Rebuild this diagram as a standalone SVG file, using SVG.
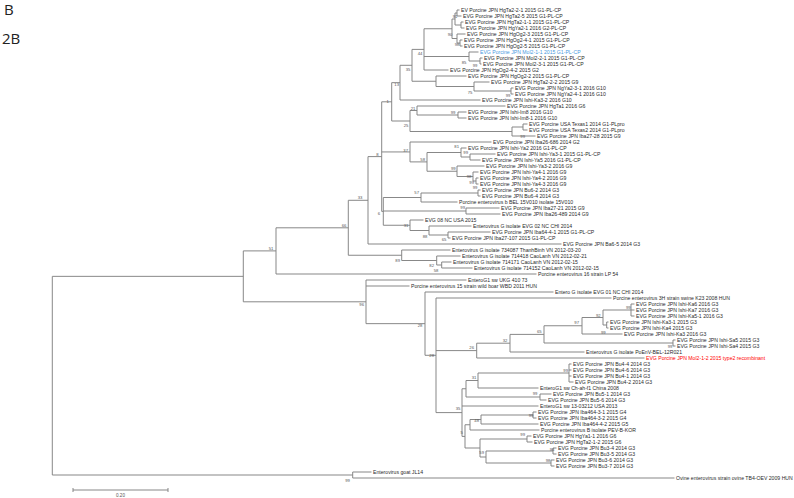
<svg xmlns="http://www.w3.org/2000/svg" width="794" height="498" viewBox="0 0 794 498">
<style>
.t{font-family:"Liberation Sans",Arial,sans-serif;font-size:5.15px;fill:#2a2a2a}
.bl{fill:#4a9ae0}
.rd{fill:#ff0000}
.b{font-family:"Liberation Sans",Arial,sans-serif;font-size:4.2px;fill:#555;text-anchor:middle}
.e{stroke:#828282;stroke-width:0.95;fill:none}
.h{font-family:"Open Sans","DejaVu Sans",sans-serif;font-size:15px;fill:#222}
</style>
<rect width="794" height="498" fill="#fff"/>
<text class="h" x="4" y="15">B</text>
<text class="h" x="2" y="44">2B</text>
<g id="connectors" class="e">
<path d="M457 10V16M457 10H459.5M457 16H461.5"/>
<path d="M461 22V28M461 22H463.5M461 28H464.5"/>
<path d="M455 13V25M455 13H457M455 25H461"/>
<path d="M460 40V46M460 40H462.5M460 46H462.5"/>
<path d="M457 34V43M457 34H465.5M457 43H460"/>
<path d="M452 19V38.5M452 19H455M452 38.5H457"/>
<path d="M480 58V64M480 58H482.5M480 64H481.5"/>
<path d="M469 52V61M469 52H478.5M469 61H480"/>
<path d="M424 28.75V70M424 28.75H452M424 56.5H469M424 70H448.5"/>
<path d="M511 88V94M511 88H513.5M511 94H513.5"/>
<path d="M474 82V91M474 82H489.5M474 91H511"/>
<path d="M436 76V86.5M436 76H466.5M436 86.5H474"/>
<path d="M412 49.4V81.25M412 49.4H424M412 81.25H436"/>
<path d="M400 65.3V100M400 65.3H412M400 100H480.5"/>
<path d="M458 112V118M458 112H466.5M458 118H466.5"/>
<path d="M417 106V115M417 106H505.5M417 115H458"/>
<path d="M523 124V130M523 124H527.5M523 130H527.5"/>
<path d="M512 127V136M512 127H523M512 136H535.5"/>
<path d="M410 110.5V131.5M410 110.5H417M410 131.5H512"/>
<path d="M391.7 82.65V121M391.7 82.65H400M391.7 121H410"/>
<path d="M470 154V160M470 154H495.5M470 160H480.5"/>
<path d="M461 148V157M461 148H466.5M461 157H470"/>
<path d="M476 178V184M476 178H478.5M476 184H478.5"/>
<path d="M473 172V181M473 172H478.5M473 181H476"/>
<path d="M457 166V176.5M457 166H484.5M457 176.5H473"/>
<path d="M427 152.5V171.25M427 152.5H461M427 171.25H457"/>
<path d="M410 142V161.9M410 142H491.5M410 161.9H427"/>
<path d="M478 190V196M478 190H480.5M478 196H480.5"/>
<path d="M421 193V202M421 193H478M421 202H457.5"/>
<path d="M466 208V214M466 208H499.5M466 214H500.5"/>
<path d="M448 232V238M448 232H490.5M448 238H450.5"/>
<path d="M429 226V235M429 226H471.5M429 235H448"/>
<path d="M410 220V230.5M410 220H423.5M410 230.5H429"/>
<path d="M383.3 197.5V225.25M383.3 197.5H421M383.3 211H466M383.3 225.25H410"/>
<path d="M381.7 101.8V211.4M381.7 101.8H391.7M381.7 151.95H410M381.7 211.4H383.3"/>
<path d="M368 156.6V244M368 156.6H381.7M368 244H561.5"/>
<path d="M441.7 262V268M441.7 262H451.5M441.7 268H472.5"/>
<path d="M436.7 256V265M436.7 256H460.5M436.7 265H441.7"/>
<path d="M401.7 250V260.5M401.7 250H450.5M401.7 260.5H436.7"/>
<path d="M348.3 200.3V255.25M348.3 200.3H368M348.3 255.25H401.7"/>
<path d="M276 227.8V274M276 227.8H348.3M276 274H536.5"/>
<path d="M631 304V316M631 304H634.5M631 310H634.5M631 316H634.5"/>
<path d="M606.7 322V328M606.7 322H608.5M606.7 328H608.5"/>
<path d="M603 310V325M603 310H631M603 325H606.7"/>
<path d="M582 317.5V334M582 317.5H603M582 334H622.5"/>
<path d="M673 340V346M673 340H675.5M673 346H675.5"/>
<path d="M544 325.75V343M544 325.75H582M544 343H673"/>
<path d="M510 334.4V352M510 334.4H544M510 352H584.5"/>
<path d="M476.7 343.2V358M476.7 343.2H510M476.7 358H644.5"/>
<path d="M569 364V382M569 364H571.5M569 370H571.5M569 376H571.5M569 382H573.5"/>
<path d="M478 373V388M478 373H569M478 388H538.5"/>
<path d="M540 394V400M540 394H551.5M540 400H546.5"/>
<path d="M466 380.5V397M466 380.5H478M466 397H540"/>
<path d="M533 412V418M533 412H536.5M533 418H536.5"/>
<path d="M481 415V424M481 415H533M481 424H538.5"/>
<path d="M470 419.5V430M470 419.5H481M470 430H539.5"/>
<path d="M527 436V442M527 436H531.5M527 442H532.5"/>
<path d="M553 448V454M553 448H556.5M553 454H556.5"/>
<path d="M551 460V466M551 460H554.5M551 466H554.5"/>
<path d="M486 451V463M486 451H553M486 463H551"/>
<path d="M480 439V457M480 439H527M480 457H486"/>
<path d="M465 424.75V448M465 424.75H470M465 448H480"/>
<path d="M462 388.75V436.4M462 388.75H466M462 406H538.5M462 436.4H465"/>
<path d="M436 298V412.6M436 298H611.5M436 350.6H476.7M436 412.6H462"/>
<path d="M425 292V355.3M425 292H553.5M425 355.3H436"/>
<path d="M366 280V323.65M366 280H466.5M366 286H409.5M366 323.65H425"/>
<path d="M243.3 250.9V301.8M243.3 250.9H276M243.3 301.8H366"/>
<path d="M352.7 472V478M352.7 472H371.5M352.7 478H674.5"/>
<path d="M52.3 276.35V475M52.3 276.35H243.3M52.3 475H352.7"/>
<path d="M73 490H168M73 488V492M168 488V492"/>
</g>
<g id="bootstrap">
<text class="b" x="455" y="17.5">91</text>
<text class="b" x="450" y="35.5">90</text>
<text class="b" x="457" y="45.5">98</text>
<text class="b" x="420" y="54.5">44</text>
<text class="b" x="464" y="63.5">85</text>
<text class="b" x="475" y="67.2">99</text>
<text class="b" x="408" y="70.5">35</text>
<text class="b" x="396.7" y="85.5">13</text>
<text class="b" x="470" y="93.5">75</text>
<text class="b" x="508" y="97.2">99</text>
<text class="b" x="387.7" y="102.5">1</text>
<text class="b" x="413" y="109.5">21</text>
<text class="b" x="453" y="113.5">99</text>
<text class="b" x="406" y="127.2">25</text>
<text class="b" x="522.7" y="138.3">99</text>
<text class="b" x="456.7" y="148.2">81</text>
<text class="b" x="465.7" y="154.2">99</text>
<text class="b" x="405.7" y="152.2">37</text>
<text class="b" x="377.3" y="155.8">8</text>
<text class="b" x="422.7" y="160.5">58</text>
<text class="b" x="453.3" y="170.2">99</text>
<text class="b" x="469" y="177.5">98</text>
<text class="b" x="471.7" y="184.2">99</text>
<text class="b" x="475" y="189.2">99</text>
<text class="b" x="416.7" y="193.5">57</text>
<text class="b" x="360" y="198.8">33</text>
<text class="b" x="462.7" y="208.7">99</text>
<text class="b" x="379" y="214.5">6</text>
<text class="b" x="406" y="226.5">31</text>
<text class="b" x="344" y="226.5">66</text>
<text class="b" x="425" y="238.2">88</text>
<text class="b" x="444" y="240.5">65</text>
<text class="b" x="271" y="249.5">51</text>
<text class="b" x="397.7" y="261.5">89</text>
<text class="b" x="431.7" y="266.5">82</text>
<text class="b" x="436" y="271.5">58</text>
<text class="b" x="361.7" y="306.2">96</text>
<text class="b" x="628.3" y="308.8">99</text>
<text class="b" x="598.3" y="316.5">92</text>
<text class="b" x="576.7" y="324.2">97</text>
<text class="b" x="420" y="327.2">28</text>
<text class="b" x="539.3" y="333.2">65</text>
<text class="b" x="603.3" y="333.8">99</text>
<text class="b" x="505" y="341.5">32</text>
<text class="b" x="670" y="348.2">99</text>
<text class="b" x="471.7" y="348.8">26</text>
<text class="b" x="431.7" y="356.5">28</text>
<text class="b" x="565.7" y="371.5">99</text>
<text class="b" x="474" y="379.2">31</text>
<text class="b" x="535" y="395.2">99</text>
<text class="b" x="458" y="409.5">35</text>
<text class="b" x="531" y="416.5">99</text>
<text class="b" x="476.7" y="422.2">48</text>
<text class="b" x="461.7" y="433.8">5</text>
<text class="b" x="522.7" y="436.2">99</text>
<text class="b" x="552" y="450.5">96</text>
<text class="b" x="481.7" y="453.8">59</text>
<text class="b" x="548" y="461.5">98</text>
<text class="b" x="347.6" y="481.5">99</text>
<text class="b" x="120.5" y="497" style="font-size:4.6px">0.20</text>
</g>
<g id="leaf1"><text class="t" x="461" y="11.9">EV Porcine JPN HgTa2-2-1 2015 G1-PL-CP</text></g>
<g id="leaf2"><text class="t" x="463" y="17.9">EVG Porcine JPN HgTa2-5 2015 G1-PL-CP</text></g>
<g id="leaf3"><text class="t" x="465" y="23.9">EVG Porcine JPN HgTa2-1-1 2015 G1-PL-CP</text></g>
<g id="leaf4"><text class="t" x="466" y="29.9">EVG Porcine JPN HgYa2-1 2016 G2-PL-CP</text></g>
<g id="leaf5"><text class="t" x="467" y="35.9">EVG Porcine JPN HgOg2-3 2015 G1-PL-CP</text></g>
<g id="leaf6"><text class="t" x="464" y="41.9">EVG Porcine JPN HgOg2-4-1 2015 G1-PL-CP</text></g>
<g id="leaf7"><text class="t" x="464" y="47.9">EVG Porcine JPN HgOg2-5 2015 G1-PL-CP</text></g>
<g id="leaf8"><text class="t bl" x="480" y="53.9">EVG Porcine JPN Mol2-1-1 2015 G1-PL-CP</text></g>
<g id="leaf9"><text class="t" x="484" y="59.9">EVG Porcine JPN Mol2-2-1 2015 G1-PL-CP</text></g>
<g id="leaf10"><text class="t" x="483" y="65.9">EVG Porcine JPN Mol2-3-1 2015 G1-PL-CP</text></g>
<g id="leaf11"><text class="t" x="450" y="71.9">EVG Porcine JPN HgOg2-4-2 2015 G2</text></g>
<g id="leaf12"><text class="t" x="468" y="77.9">EVG Porcine JPN HgOg2-2 2015 G1-PL-CP</text></g>
<g id="leaf13"><text class="t" x="491" y="83.9">EVG Porcine JPN HgTa2-2-2 2015 G9</text></g>
<g id="leaf14"><text class="t" x="515" y="89.9">EVG Porcine JPN NgYa2-3-1 2016 G10</text></g>
<g id="leaf15"><text class="t" x="515" y="95.9">EVG Porcine JPN NgYa2-4-1 2016 G10</text></g>
<g id="leaf16"><text class="t" x="482" y="101.9">EVG Porcine JPN Ishi-Ka3-2 2016 G10</text></g>
<g id="leaf17"><text class="t" x="507" y="107.9">EVG Porcine JPN HgTa1 2016 G6</text></g>
<g id="leaf18"><text class="t" x="468" y="113.9">EVG Porcine JPN Ishi-Im8 2016 G10</text></g>
<g id="leaf19"><text class="t" x="468" y="119.9">EVG Porcine JPN Ishi-Im8-1 2016 G10</text></g>
<g id="leaf20"><text class="t" x="529" y="125.9">EVG Porcine USA Texas1 2014 G1-PLpro</text></g>
<g id="leaf21"><text class="t" x="529" y="131.9">EVG Porcine USA Texas2 2014 G1-PLpro</text></g>
<g id="leaf22"><text class="t" x="537" y="137.9">EVG Porcine JPN Iba27-28 2015 G9</text></g>
<g id="leaf23"><text class="t" x="493" y="143.9">EVG Porcine JPN Iba26-686 2014 G2</text></g>
<g id="leaf24"><text class="t" x="468" y="149.9">EVG Porcine JPN Ishi-Ya2 2016 G1-PL-CP</text></g>
<g id="leaf25"><text class="t" x="497" y="155.9">EVG Porcine JPN Ishi-Ya3-1 2015 G1-PL-CP</text></g>
<g id="leaf26"><text class="t" x="482" y="161.9">EVG Porcine JPN Ishi-Ya5 2016 G1-PL-CP</text></g>
<g id="leaf27"><text class="t" x="486" y="167.9">EVG Porcine JPN Ishi-Ya3-2 2016 G9</text></g>
<g id="leaf28"><text class="t" x="480" y="173.9">EVG Porcine JPN Ishi-Ya4-1 2016 G9</text></g>
<g id="leaf29"><text class="t" x="480" y="179.9">EVG Porcine JPN Ishi-Ya4-2 2016 G9</text></g>
<g id="leaf30"><text class="t" x="480" y="185.9">EVG Porcine JPN Ishi-Ya4-3 2016 G9</text></g>
<g id="leaf31"><text class="t" x="482" y="191.9">EVG Porcine JPN Bu6-2 2014 G3</text></g>
<g id="leaf32"><text class="t" x="482" y="197.9">EVG Porcine JPN Bu6-4 2014 G3</text></g>
<g id="leaf33"><text class="t" x="459" y="203.9">Porcine enterovirus b BEL 15V010 isolate 15V010</text></g>
<g id="leaf34"><text class="t" x="501" y="209.9">EVG Porcine JPN Iba27-21 2015 G9</text></g>
<g id="leaf35"><text class="t" x="502" y="215.9">EVG Porcine JPN Iba26-489 2014 G9</text></g>
<g id="leaf36"><text class="t" x="425" y="221.9">EVG 08 NC USA 2015</text></g>
<g id="leaf37"><text class="t" x="473" y="227.9">Enterovirus G isolate EVG 02 NC CHI 2014</text></g>
<g id="leaf38"><text class="t" x="492" y="233.9">EVG Porcine JPN Iba64-4-1 2015 G1-PL-CP</text></g>
<g id="leaf39"><text class="t" x="452" y="239.9">EVG Porcine JPN Iba27-107 2015 G1-PL-CP</text></g>
<g id="leaf40"><text class="t" x="563" y="245.9">EVG Porcine JPN Ba6-5 2014 G3</text></g>
<g id="leaf41"><text class="t" x="452" y="251.9">Enterovirus G isolate 734087 ThanhBinh VN 2012-03-20</text></g>
<g id="leaf42"><text class="t" x="462" y="257.9">Enterovirus G isolate 714418 CaoLanh VN 2012-02-21</text></g>
<g id="leaf43"><text class="t" x="453" y="263.9">Enterovirus G isolate 714171 CaoLanh VN 2012-02-15</text></g>
<g id="leaf44"><text class="t" x="474" y="269.9">Enterovirus G isolate 714152 CaoLanh VN 2012-02-15</text></g>
<g id="leaf45"><text class="t" x="538" y="275.9">Porcine enterovirus 16 strain LP 54</text></g>
<g id="leaf46"><text class="t" x="468" y="281.9">EnteroG1 sw UKG 410 73</text></g>
<g id="leaf47"><text class="t" x="411" y="287.9">Porcine enterovirus 15 strain wild boar WBD 2011 HUN</text></g>
<g id="leaf48"><text class="t" x="555" y="293.9">Entero G isolate EVG 01 NC CHI 2014</text></g>
<g id="leaf49"><text class="t" x="613" y="299.9">Porcine enterovirus 3H strain swine K23 2008 HUN</text></g>
<g id="leaf50"><text class="t" x="636" y="305.9">EVG Porcine JPN Ishi-Ka6 2016 G3</text></g>
<g id="leaf51"><text class="t" x="636" y="311.9">EVG Porcine JPN Ishi-Ka7 2016 G3</text></g>
<g id="leaf52"><text class="t" x="636" y="317.9">EVG Porcine JPN Ishi-Ka5-1 2016 G3</text></g>
<g id="leaf53"><text class="t" x="610" y="323.9">EVG Porcine JPN Ishi-Ka3-1 2015 G3</text></g>
<g id="leaf54"><text class="t" x="610" y="329.9">EVG Porcine JPN Ishi-Ka4 2015 G3</text></g>
<g id="leaf55"><text class="t" x="624" y="335.9">EVG Porcine JPN Ishi-Ka3 2016 G3</text></g>
<g id="leaf56"><text class="t" x="677" y="341.9">EVG Porcine JPN Ishi-Sa5 2015 G3</text></g>
<g id="leaf57"><text class="t" x="677" y="347.9">EVG Porcine JPN Ishi-Sa4 2015 G3</text></g>
<g id="leaf58"><text class="t" x="586" y="353.9">Enterovirus G isolate PoEnV-BEL-12R021</text></g>
<g id="leaf59"><text class="t rd" x="646" y="359.9">EVG Porcine JPN Mol2-1-2 2015 type2 recombinant</text></g>
<g id="leaf60"><text class="t" x="573" y="365.9">EVG Porcine JPN Bu4-4 2014 G3</text></g>
<g id="leaf61"><text class="t" x="573" y="371.9">EVG Porcine JPN Bu4-6 2014 G3</text></g>
<g id="leaf62"><text class="t" x="573" y="377.9">EVG Porcine JPN Bu4-1 2014 G3</text></g>
<g id="leaf63"><text class="t" x="575" y="383.9">EVG Porcine JPN Bu4-2 2014 G3</text></g>
<g id="leaf64"><text class="t" x="540" y="389.9">EnteroG1 sw Ch-ah-f1 China 2008</text></g>
<g id="leaf65"><text class="t" x="553" y="395.9">EVG Porcine JPN Bu5-1 2014 G3</text></g>
<g id="leaf66"><text class="t" x="548" y="401.9">EVG Porcine JPN Bu5-6 2014 G3</text></g>
<g id="leaf67"><text class="t" x="540" y="407.9">EnteroG1 sw 13-03212 USA 2013</text></g>
<g id="leaf68"><text class="t" x="538" y="413.9">EVG Porcine JPN Iba464-3-1 2015 G4</text></g>
<g id="leaf69"><text class="t" x="538" y="419.9">EVG Porcine JPN Iba464-3-2 2015 G4</text></g>
<g id="leaf70"><text class="t" x="540" y="425.9">EVG Porcine JPN Iba464-4-2 2015 G5</text></g>
<g id="leaf71"><text class="t" x="541" y="431.9">Porcine enterovirus B isolate PEV-B-KOR</text></g>
<g id="leaf72"><text class="t" x="533" y="437.9">EVG Porcine JPN HgYa1-1 2016 G6</text></g>
<g id="leaf73"><text class="t" x="534" y="443.9">EVG Porcine JPN HgTa2-1-2 2015 G6</text></g>
<g id="leaf74"><text class="t" x="558" y="449.9">EVG Porcine JPN Bu3-4 2014 G3</text></g>
<g id="leaf75"><text class="t" x="558" y="455.9">EVG Porcine JPN Bu3-5 2014 G3</text></g>
<g id="leaf76"><text class="t" x="556" y="461.9">EVG Porcine JPN Bu3-6 2014 G3</text></g>
<g id="leaf77"><text class="t" x="556" y="467.9">EVG Porcine JPN Bu3-7 2014 G3</text></g>
<g id="leaf78"><text class="t" x="373" y="473.9">Enterovirus goat JL14</text></g>
<g id="leaf79"><text class="t" x="676" y="479.9">Ovine enterovirus strain ovine TB4-OEV 2009 HUN</text></g>
</svg>
